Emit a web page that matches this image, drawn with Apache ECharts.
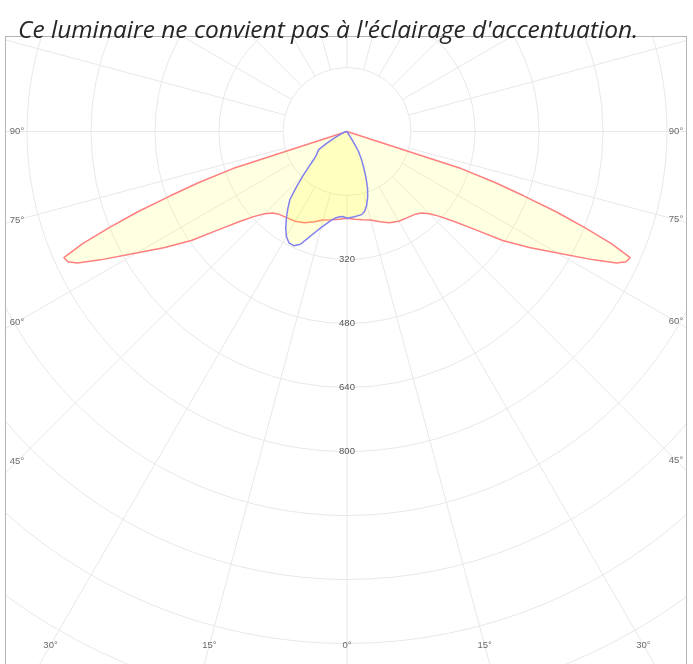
<!DOCTYPE html>
<html>
<head>
<meta charset="utf-8">
<script src="https://cdn.jsdelivr.net/npm/echarts@6/dist/echarts.min.js"></script>
<style>
  body { margin: 0; width: 693px; height: 664px; overflow: hidden; background: #fff; position: relative; }
  #titre { position: absolute; left: 18px; top: 12px; font: italic 24.5px 'Open Sans'; color: #262626; white-space: nowrap; z-index: 2; }
  #cadre { position: absolute; left: 5px; top: 36px; width: 680px; height: 640px; border: 1px solid #b4b4b4; overflow: hidden; }
  #chart { width: 680px; height: 628px; }
</style>
</head>
<body>
<div id="cadre"><div id="chart"></div></div>
<div id="titre">Ce luminaire ne convient pas à l'éclairage d'accentuation.</div>
<script>
// plan C0-C180 (symetrique, rouge)
const redGamma = [0, 5, 10, 15, 20, 25, 30, 35, 40, 42.5, 45, 47.5, 50, 52.5, 55, 57.5, 60, 62.5, 64, 65, 66, 67, 68, 69, 70, 71, 72, 75, 90]
const redCd = [217, 220, 224, 229, 240, 252, 259, 263, 269, 276, 291, 314, 350, 402, 475, 540, 608, 695, 750, 770, 775, 718, 640, 560, 470, 390, 300, 0, 0]

// plan C90-C270 (bleu), cote droit puis cote gauche
const blueRightGamma = [0, 5, 10, 12.5, 15, 17.5, 20, 22.5, 25, 27.5, 30, 31, 32, 35, 45, 90]
const blueRightCd = [217, 214, 211, 204, 190, 172, 150, 123, 98, 78, 57, 38, 18, 6, 2, 0]
const blueLeftGamma = [0, 2.5, 5, 7.5, 10, 12.5, 15, 17.5, 20, 22.5, 25, 27.5, 30, 32.5, 35, 37.5, 40, 42.5, 45, 47.5, 50, 52.5, 55, 57.5, 60, 62.5, 65, 70, 80, 90]
const blueLeftCd = [217, 213, 214, 218, 225, 236, 248, 264, 283, 305, 315, 314, 303, 285, 264, 243, 222, 186, 155, 128, 108, 96, 90, 84, 58, 36, 24, 13, 5, 0]

const angleTicks = [0, 15, 30, 45, 60, 75, 90]
const radiusLabels = [320, 480, 640, 800]

const rMax = 1760
const rPx = 704
const pxPerCd = rPx / rMax
const centre = [341, 94.5]
// distance du centre aux bords du cadre ou sont posees les etiquettes d'angle
const bordGauche = 330
const bordDroit = 329
const bordBas = 513.5

// gauche : theta = gamma, droite : theta = 360 - gamma
const toSeries = (gRight, cdRight, gLeft, cdLeft) => {
  const arr = []
  for (let i = gRight.length - 1; i >= 0; i--) arr.push([cdRight[i], 360 - gRight[i]])
  for (let i = 0; i < gLeft.length; i++) arr.push([cdLeft[i], gLeft[i]])
  return arr
}

const angleLabelData = () => {
  const arr = []
  angleTicks.forEach(g => {
    const rad = g * Math.PI / 180
    const sides = g === 0 ? [[0, bordGauche]] : [[g, bordGauche], [360 - g, bordDroit]]
    sides.forEach(([theta, bord]) => {
      const r = Math.min(g === 0 ? Infinity : bord / Math.sin(rad), bordBas / Math.cos(rad))
      arr.push([r / pxPerCd, theta, g + '°'])
    })
  })
  return arr
}

const chart = echarts.init(document.getElementById('chart'))

const option = {
  animation: false,
  polar: [
    { center: centre, radius: [0, rPx] },
    { center: centre, radius: [64, rPx] }
  ],
  angleAxis: [
    {
      polarIndex: 0,
      type: 'value',
      min: 0,
      max: 360,
      interval: 15,
      startAngle: 270,
      clockwise: true,
      axisLine: { show: false },
      axisTick: { show: false },
      axisLabel: { show: false },
      splitLine: { show: false }
    },
    {
      polarIndex: 1,
      type: 'value',
      min: 0,
      max: 360,
      interval: 15,
      startAngle: 270,
      clockwise: true,
      axisLine: { show: false },
      axisTick: { show: false },
      axisLabel: { show: false },
      splitLine: { show: true, lineStyle: { color: '#e8e8e8', width: 1 } }
    }
  ],
  radiusAxis: [
    {
      polarIndex: 0,
      type: 'value',
      min: 0,
      max: rMax,
      interval: 160,
      axisLine: { show: false },
      axisTick: { show: false },
      axisLabel: {
        show: true,
        margin: 0,
        align: 'center',
        verticalAlign: 'middle',
        color: '#555',
        fontSize: 9.5,
        fontFamily: 'Liberation Sans',
        formatter: v => radiusLabels.includes(v) ? String(v) : ''
      },
      splitLine: { show: true, lineStyle: { color: '#e8e8e8', width: 1 } },
      z: 1
    },
    {
      polarIndex: 1,
      type: 'value',
      min: 0,
      max: rMax,
      show: false
    }
  ],
  series: [
    {
      name: 'C0-C180',
      type: 'line',
      coordinateSystem: 'polar',
      polarIndex: 0,
      data: toSeries(redGamma, redCd, redGamma, redCd),
      showSymbol: false,
      smooth: false,
      clip: false,
      lineStyle: { color: '#ff7f7f', width: 1.5 },
      areaStyle: { color: 'rgba(255, 255, 0, 0.17)' },
      z: 3
    },
    {
      name: 'C90-C270',
      type: 'line',
      coordinateSystem: 'polar',
      polarIndex: 0,
      data: toSeries(blueRightGamma, blueRightCd, blueLeftGamma, blueLeftCd),
      showSymbol: false,
      smooth: false,
      clip: false,
      lineStyle: { color: '#8080ee', width: 1.5 },
      areaStyle: { color: 'rgba(255, 255, 0, 0.22)' },
      z: 4
    },
    {
      name: 'angles',
      type: 'scatter',
      coordinateSystem: 'polar',
      polarIndex: 0,
      data: angleLabelData(),
      symbolSize: 0,
      silent: true,
      label: {
        show: true,
        position: 'inside',
        color: '#444',
        fontSize: 9.5,
        fontFamily: 'Liberation Sans',
        formatter: p => p.data[2]
      },
      z: 5
    }
  ]
}

chart.setOption(option)
</script>
</body>
</html>
